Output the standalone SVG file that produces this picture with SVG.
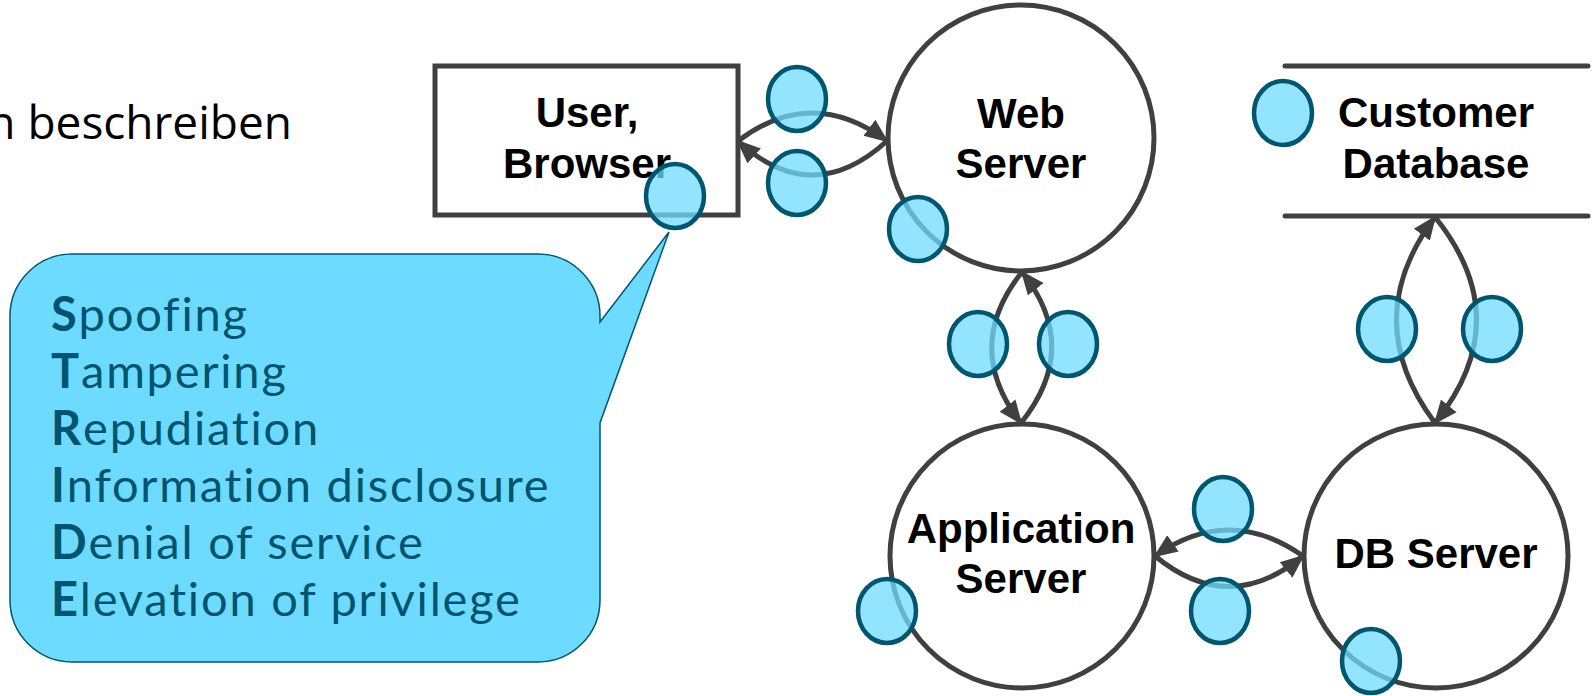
<svg xmlns="http://www.w3.org/2000/svg" width="1593" height="696" viewBox="0 0 1593 696">
  <style>
    .node { fill: #ffffff; stroke: #404040; stroke-width: 5; }
    .store { stroke: #404040; stroke-width: 5; stroke-linecap: round; fill: none; }
    .label { font-family: "Liberation Sans", Arial, sans-serif; font-weight: bold; font-size: 42px; fill: #000000; text-anchor: middle; }
    .flow { fill: none; stroke: #404040; stroke-width: 5; marker-end: url(#arrow); }
    .threat { fill: #6ddbff; fill-opacity: 0.75; stroke: #00556f; stroke-width: 4.5; }
    .callout { fill: #6ddbff; stroke: #00556f; stroke-width: 1.5; }
    .stride { font-family: Lato, "Open Sans", sans-serif; font-size: 47px; fill: #00546e; letter-spacing: 1.8px; }
    .stride tspan.k { font-weight: bold; }
    .head { font-family: "Open Sans", "Noto Sans", sans-serif; font-size: 46px; fill: #000000; }
  </style>
  <defs>
    <marker id="arrow" viewBox="0 0 24 24" refX="22" refY="12" markerWidth="24" markerHeight="24" markerUnits="userSpaceOnUse" orient="auto">
      <path d="M0,2 L24,12 L0,22 z" fill="#404040"/>
    </marker>
  </defs>

  <!-- heading fragment -->
  <text class="head" x="292" y="139" text-anchor="end">n beschreiben</text>

  <!-- external entity -->
  <g id="user-browser">
    <rect class="node" x="435" y="66" width="303" height="149"/>
    <text class="label" x="587" y="127">User,</text>
    <text class="label" x="587" y="178">Browser</text>
  </g>

  <!-- processes -->
  <g id="web-server">
    <circle class="node" cx="1021" cy="138" r="133"/>
    <text class="label" x="1021" y="128">Web</text>
    <text class="label" x="1021" y="178">Server</text>
  </g>
  <g id="application-server">
    <circle class="node" cx="1022" cy="556" r="132"/>
    <text class="label" x="1021" y="543">Application</text>
    <text class="label" x="1021" y="593">Server</text>
  </g>
  <g id="db-server">
    <circle class="node" cx="1436" cy="556" r="132"/>
    <text class="label" x="1436" y="568">DB Server</text>
  </g>

  <!-- data store -->
  <g id="customer-database">
    <line class="store" x1="1285" y1="66" x2="1588" y2="66"/>
    <line class="store" x1="1285" y1="216" x2="1588" y2="216"/>
    <text class="label" x="1436" y="127">Customer</text>
    <text class="label" x="1436" y="178">Database</text>
  </g>

  <!-- data flows -->
  <g id="flows">
    <path class="flow" d="M738,141 Q812,85 887,141"/>
    <path class="flow" d="M887,141 Q812,209 738,141"/>
    <path class="flow" d="M1022,272 Q962,347 1021,423"/>
    <path class="flow" d="M1021,423 Q1082,347 1022,272"/>
    <path class="flow" d="M1303,556 Q1229,504 1155,556"/>
    <path class="flow" d="M1155,556 Q1229,617 1303,556"/>
    <path class="flow" d="M1435,423 Q1358,320 1435,217"/>
    <path class="flow" d="M1435,217 Q1518,320 1435,423"/>
  </g>

  <!-- STRIDE callout -->
  <g id="stride-callout">
    <path class="callout" d="M72,254 H538 A62,62 0 0 1 600,316 L600,322 L669,232 L600,423 V600 A62,62 0 0 1 538,662 H72 A62,62 0 0 1 10,600 V316 A62,62 0 0 1 72,254 Z"/>
    <text class="stride">
      <tspan x="51" y="331"><tspan class="k">S</tspan>poofing</tspan>
      <tspan x="51" y="388"><tspan class="k">T</tspan>ampering</tspan>
      <tspan x="51" y="445"><tspan class="k">R</tspan>epudiation</tspan>
      <tspan x="51" y="502"><tspan class="k">I</tspan>nformation disclosure</tspan>
      <tspan x="51" y="559"><tspan class="k">D</tspan>enial of service</tspan>
      <tspan x="51" y="616"><tspan class="k">E</tspan>levation of privilege</tspan>
    </text>
  </g>

  <!-- threat markers -->
  <g id="threats">
    <ellipse class="threat" cx="797" cy="99" rx="29" ry="32"/>
    <ellipse class="threat" cx="797" cy="183" rx="29" ry="32"/>
    <ellipse class="threat" cx="675" cy="196" rx="29" ry="32"/>
    <ellipse class="threat" cx="918" cy="229" rx="29" ry="32"/>
    <ellipse class="threat" cx="978" cy="344" rx="29" ry="32"/>
    <ellipse class="threat" cx="1068" cy="344" rx="29" ry="32"/>
    <ellipse class="threat" cx="887" cy="611" rx="29" ry="32"/>
    <ellipse class="threat" cx="1223" cy="509" rx="29" ry="32"/>
    <ellipse class="threat" cx="1220" cy="611" rx="29" ry="32"/>
    <ellipse class="threat" cx="1371" cy="661" rx="29" ry="32"/>
    <ellipse class="threat" cx="1283" cy="113" rx="29" ry="32"/>
    <ellipse class="threat" cx="1387" cy="329" rx="29" ry="32"/>
    <ellipse class="threat" cx="1492" cy="329" rx="29" ry="32"/>
  </g>
</svg>
